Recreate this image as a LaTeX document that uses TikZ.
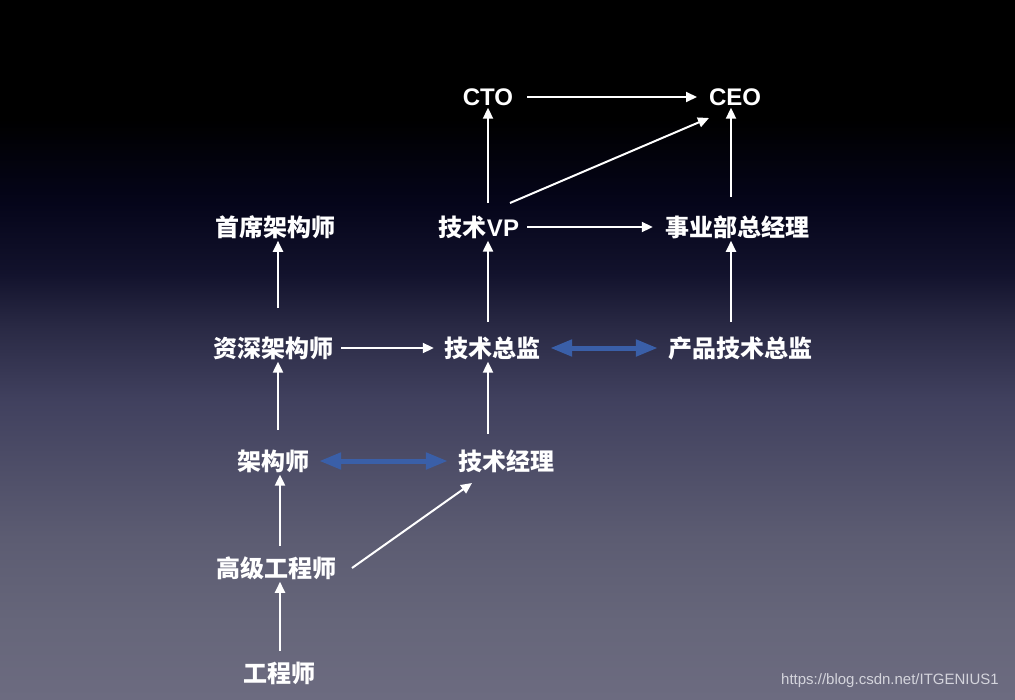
\documentclass[tikz,border=0pt]{standalone}
\usepackage{fontspec}
\setmainfont{Noto Sans CJK SC}
\newfontfamily\lat{Liberation Sans}
\newfontfamily\latb{Liberation Sans Bold}
\usetikzlibrary{arrows.meta}
\definecolor{c0}{HTML}{6C6B80}
\definecolor{c1}{HTML}{66667A}
\definecolor{c2}{HTML}{5C5C72}
\definecolor{c3}{HTML}{4E4E68}
\definecolor{c4}{HTML}{40405E}
\definecolor{c5}{HTML}{2A2A45}
\definecolor{c6}{HTML}{12122C}
\definecolor{c7}{HTML}{05051A}
\definecolor{c8}{HTML}{000000}
\definecolor{dbl}{HTML}{3A5FA8}
\definecolor{wmc}{HTML}{D4D4DC}
\pgfdeclareverticalshading{bgshade}{100bp}{color(0bp)=(c0); color(25bp)=(c0); color(30.5bp)=(c1); color(36.5bp)=(c2); color(41.5bp)=(c3); color(46.5bp)=(c4); color(51.5bp)=(c5); color(55.5bp)=(c6); color(60.5bp)=(c7); color(66.5bp)=(c8); color(100bp)=(c8)}
\tikzset{
  lbl/.style={text=white, font=\fontsize{24}{28}\selectfont\bfseries, inner sep=2pt},
  arr/.style={draw=white, line width=2pt, -{Triangle[length=11pt,width=10pt]}},
  dbl/.style={draw=dbl, line width=5pt, {Triangle[length=22pt,width=16pt]}-{Triangle[length=22pt,width=16pt]}},
}
\begin{document}
\begin{tikzpicture}[x=1pt,y=-1pt]
\useasboundingbox (0,0) rectangle (1015,699);
\shade[shading=bgshade] (0,0) rectangle (1015,699);
\node[lbl] (cto) at (488,97) {\latb CTO};
\node[lbl] (ceo) at (735,97) {\latb CEO};
\node[lbl] (sjg) at (275,227) {首席架构师};
\node[lbl] (vp) at (479,227) {技术{\latb VP}};
\node[lbl] (gm) at (737,227) {事业部总经理};
\node[lbl] (zs) at (273,348) {资深架构师};
\node[lbl] (zj) at (492,348) {技术总监};
\node[lbl] (cp) at (740,348) {产品技术总监};
\node[lbl] (jg) at (273,461) {架构师};
\node[lbl] (jl) at (506,461) {技术经理};
\node[lbl] (gj) at (276,568) {高级工程师};
\node[lbl] (gc) at (279,673) {工程师};
\node[text=wmc, font=\lat\fontsize{15}{18}\selectfont, inner sep=0pt] (wmk) at (890,681) {https://blog.csdn.net/ITGENIUS1};
\coordinate (ctoe) at (527,97);
\coordinate (ceow) at (697,97);
\coordinate (vpa) at (488,203);
\coordinate (vpb) at (510,203);
\coordinate (ceob) at (709,118);
\draw[arr] (ctoe) -- (ceow);
\draw[arr] (vpa) -- (vpa |- cto.south);
\draw[arr] (vpb) -- (ceob);
\draw[arr] (731,197) coordinate (gmn) -- (gmn |- ceo.south);
\draw[arr] ([xshift=6pt]vp.east) -- ([xshift=-10pt]gm.west);
\draw[arr] (278,308) coordinate (zsn) -- (zsn |- sjg.south);
\draw[arr] (488,322) coordinate (zjn) -- (zjn |- vp.south);
\draw[arr] (731,322) coordinate (cpn) -- (cpn |- gm.south);
\draw[arr] ([xshift=6pt]zs.east) -- ([xshift=-8pt]zj.west);
\draw[dbl] ([xshift=8pt]zj.east) -- ([xshift=-8pt]cp.west);
\draw[arr] (488,434) coordinate (jln) -- (jln |- zj.south);
\draw[arr] (278,430) coordinate (jgn) -- (jgn |- zs.south);
\draw[dbl] ([xshift=8pt]jg.east) -- ([xshift=-8pt]jl.west);
\draw[arr] (280,546) coordinate (gjn) -- (gjn |- jg.south);
\draw[arr] (352,568) coordinate (gje) -- (472,483) coordinate (jlw);
\draw[arr] (280,651) coordinate (gcn) -- (gcn |- gj.south);
\end{tikzpicture}
\end{document}
